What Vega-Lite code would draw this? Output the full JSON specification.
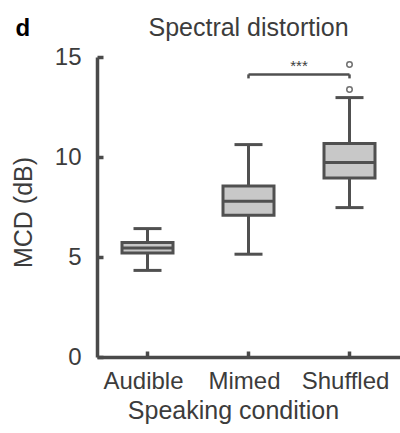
{
  "$schema": "https://vega.github.io/schema/vega-lite/v6.json",
  "autosize": "none",
  "padding": {"left": 97, "top": 57, "right": 0, "bottom": 76},
  "width": 303,
  "height": 300,
  "background": "white",
  "config": {
    "view": {"stroke": null},
    "font": "Liberation Sans",
    "axis": {
      "grid": false,
      "domainColor": "#4a4a4a",
      "domainWidth": 3.5,
      "tickColor": "#4a4a4a",
      "tickWidth": 3.5,
      "tickSize": -6,
      "labelFont": "Liberation Sans",
      "labelFontSize": 24,
      "labelColor": "#3c3c3c",
      "titleFont": "Liberation Sans",
      "titleFontSize": 25,
      "titleFontWeight": "normal",
      "titleColor": "#3c3c3c"
    }
  },
  "datasets": {
    "boxes": [
      {"cond": "Audible", "lo": 4.33, "q1": 5.2, "med": 5.45, "q3": 5.72, "hi": 6.42},
      {"cond": "Mimed", "lo": 5.14, "q1": 7.09, "med": 7.79, "q3": 8.55, "hi": 10.62},
      {"cond": "Shuffled", "lo": 7.47, "q1": 8.95, "med": 9.72, "q3": 10.67, "hi": 12.97}
    ],
    "outliers": [
      {"cond": "Shuffled", "v": 14.62},
      {"cond": "Shuffled", "v": 13.37}
    ],
    "bracket": [
      {"from": "Mimed", "to": "Shuffled", "top": 14.13, "leg": 13.93, "label": "***"}
    ],
    "heading": [
      {"letter": "d", "title": "Spectral distortion", "cond": "Mimed"}
    ]
  },
  "layer": [
    {
      "data": {"name": "boxes"},
      "mark": {"type": "rule", "color": "#505050", "strokeWidth": 3},
      "encoding": {
        "x": {"field": "cond", "type": "nominal", "sort": ["Audible", "Mimed", "Shuffled"],
          "scale": {"paddingInner": 0, "paddingOuter": 0},
          "axis": {"title": "Speaking condition", "labelAngle": 0, "labelPadding": 18, "labelOffset": -4, "titlePadding": 5, "titleX": 136, "titleAlign": "center"}},
        "y": {"field": "lo", "type": "quantitative",
          "scale": {"domain": [0, 15], "nice": false, "zero": true},
          "axis": {"title": "MCD (dB)", "values": [0, 5, 10, 15], "labelPadding": 22, "titlePadding": 18, "titleY": 155}},
        "y2": {"field": "hi"}
      }
    },
    {
      "data": {"name": "boxes"},
      "mark": {"type": "tick", "color": "#505050", "opacity": 1, "thickness": 3, "size": 28, "orient": "horizontal"},
      "encoding": {
        "x": {"field": "cond", "type": "nominal", "sort": ["Audible", "Mimed", "Shuffled"]},
        "y": {"field": "lo", "type": "quantitative"}
      }
    },
    {
      "data": {"name": "boxes"},
      "mark": {"type": "tick", "color": "#505050", "opacity": 1, "thickness": 3, "size": 28, "orient": "horizontal"},
      "encoding": {
        "x": {"field": "cond", "type": "nominal", "sort": ["Audible", "Mimed", "Shuffled"]},
        "y": {"field": "hi", "type": "quantitative"}
      }
    },
    {
      "data": {"name": "boxes"},
      "mark": {"type": "bar", "size": 51, "fill": "#c8c8c8", "stroke": "#505050", "strokeWidth": 3, "opacity": 1},
      "encoding": {
        "x": {"field": "cond", "type": "nominal", "sort": ["Audible", "Mimed", "Shuffled"]},
        "y": {"field": "q1", "type": "quantitative"},
        "y2": {"field": "q3"}
      }
    },
    {
      "data": {"name": "boxes"},
      "mark": {"type": "tick", "color": "#505050", "opacity": 1, "thickness": 3, "size": 51, "orient": "horizontal"},
      "encoding": {
        "x": {"field": "cond", "type": "nominal", "sort": ["Audible", "Mimed", "Shuffled"]},
        "y": {"field": "med", "type": "quantitative"}
      }
    },
    {
      "data": {"name": "outliers"},
      "mark": {"type": "point", "shape": "circle", "size": 30, "fill": "white", "filled": false, "stroke": "#707070", "strokeWidth": 1.5, "opacity": 1},
      "encoding": {
        "x": {"field": "cond", "type": "nominal", "sort": ["Audible", "Mimed", "Shuffled"]},
        "y": {"field": "v", "type": "quantitative"}
      }
    },
    {
      "data": {"name": "bracket"},
      "mark": {"type": "rule", "color": "#505050", "strokeWidth": 2.5},
      "encoding": {
        "x": {"field": "from", "type": "nominal", "sort": ["Audible", "Mimed", "Shuffled"]},
        "x2": {"field": "to"},
        "y": {"field": "top", "type": "quantitative"}
      }
    },
    {
      "data": {"name": "bracket"},
      "mark": {"type": "rule", "color": "#505050", "strokeWidth": 2.5},
      "encoding": {
        "x": {"field": "from", "type": "nominal", "sort": ["Audible", "Mimed", "Shuffled"]},
        "y": {"field": "leg", "type": "quantitative"},
        "y2": {"field": "top"}
      }
    },
    {
      "data": {"name": "bracket"},
      "mark": {"type": "rule", "color": "#505050", "strokeWidth": 2.5},
      "encoding": {
        "x": {"field": "to", "type": "nominal", "sort": ["Audible", "Mimed", "Shuffled"]},
        "y": {"field": "leg", "type": "quantitative"},
        "y2": {"field": "top"}
      }
    },
    {
      "data": {"name": "bracket"},
      "mark": {"type": "text", "fontSize": 15, "color": "#3c3c3c", "align": "center", "baseline": "alphabetic", "dx": 50.5, "dy": -3},
      "encoding": {
        "x": {"field": "from", "type": "nominal", "sort": ["Audible", "Mimed", "Shuffled"]},
        "y": {"field": "top", "type": "quantitative"},
        "text": {"field": "label"}
      }
    },
    {
      "data": {"name": "heading"},
      "mark": {"type": "text", "fontSize": 25, "color": "#3c3c3c", "align": "center", "baseline": "alphabetic"},
      "encoding": {
        "x": {"field": "cond", "type": "nominal", "sort": ["Audible", "Mimed", "Shuffled"]},
        "y": {"datum": 16.06, "type": "quantitative"},
        "text": {"field": "title"}
      }
    },
    {
      "data": {"name": "heading"},
      "mark": {"type": "text", "fontSize": 24, "fontWeight": "bold", "color": "black", "align": "left", "baseline": "alphabetic", "dx": -233},
      "encoding": {
        "x": {"field": "cond", "type": "nominal", "sort": ["Audible", "Mimed", "Shuffled"]},
        "y": {"datum": 16.06, "type": "quantitative"},
        "text": {"field": "letter"}
      }
    }
  ]
}
